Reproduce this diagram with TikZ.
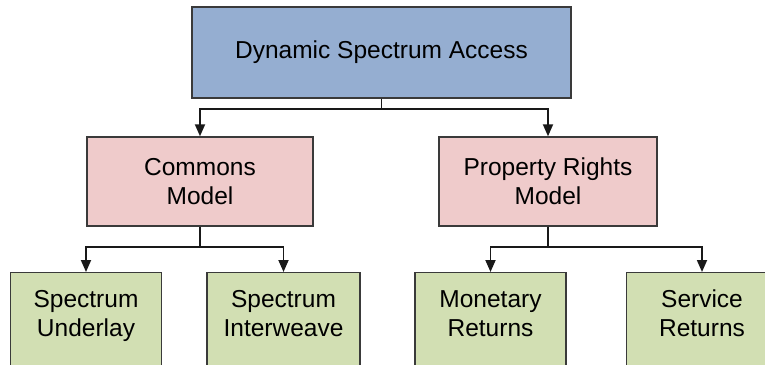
\documentclass[tikz,border=0pt]{standalone}
\usepackage{fontspec}
\setmainfont{Liberation Sans}
\definecolor{dsaBlue}{HTML}{95AED1}
\definecolor{modPink}{HTML}{EFCBCB}
\definecolor{leafGreen}{HTML}{D2DFB3}
\definecolor{edgeGray}{HTML}{3A3A3A}
\usetikzlibrary{arrows.meta}

\begin{document}
\begin{tikzpicture}[x=1pt, y=1pt, font=\fontsize{24.5}{29}\selectfont,
  box/.style={draw=edgeGray, line width=1.4pt, align=center, inner sep=0pt},
  topbox/.style={box, fill=dsaBlue, minimum width=379pt, minimum height=91pt},
  modbox/.style={box, fill=modPink, minimum height=89pt},
  leafbox/.style={box, fill=leafGreen, minimum width=151pt, minimum height=110pt, anchor=north},
  leaftext/.style={align=center, inner sep=0pt},
  arr/.style={draw=black!90, line width=1.8pt, -{Triangle[length=12pt,width=10pt]}}]
\useasboundingbox (0,0) rectangle (765,-364);
\clip (0,0) rectangle (765,-364);
\node[topbox] (dsa) at (381.5,-52.5) {Dynamic Spectrum Access};
\node[modbox, minimum width=226pt] (com) at (200,-181.5) {Commons\\Model};
\node[modbox, minimum width=218pt] (prop) at (548,-181.5) {Property Rights\\Model};
% leaf boxes run past the lower edge
\node[leafbox] (und) at (86,-272) {};
\node[leafbox, minimum width=153pt] (intw) at (283.5,-272) {};
\node[leafbox] (mon) at (490.5,-272) {};
\node[leafbox] (serv) at (702,-272) {};
\node[leaftext] (und-t) at ([yshift=-44.5pt]und.north) {\strut Spectrum\\Underlay\strut};
\node[leaftext] (intw-t) at ([yshift=-44.5pt]intw.north) {\strut Spectrum\\Interweave\strut};
\node[leaftext] (mon-t) at ([yshift=-44.5pt]mon.north) {\strut Monetary\\Returns\strut};
\node[leaftext] (serv-t) at ([yshift=-44.5pt]serv.north) {\strut Service\\Returns\strut};
\draw[arr] (dsa.south) -- ++(0,-10) -| (com.north);
\draw[arr] (dsa.south) -- ++(0,-10) -| (prop.north);
\draw[arr] (com.south) -- ++(0,-20) -| (und.north);
\draw[arr] (com.south) -- ++(0,-20) -| (intw.north);
\draw[arr] (prop.south) -- ++(0,-20) -| (mon.north);
\draw[arr] (prop.south) -- ++(0,-20) -| (serv.north);
\end{tikzpicture}
\end{document}
